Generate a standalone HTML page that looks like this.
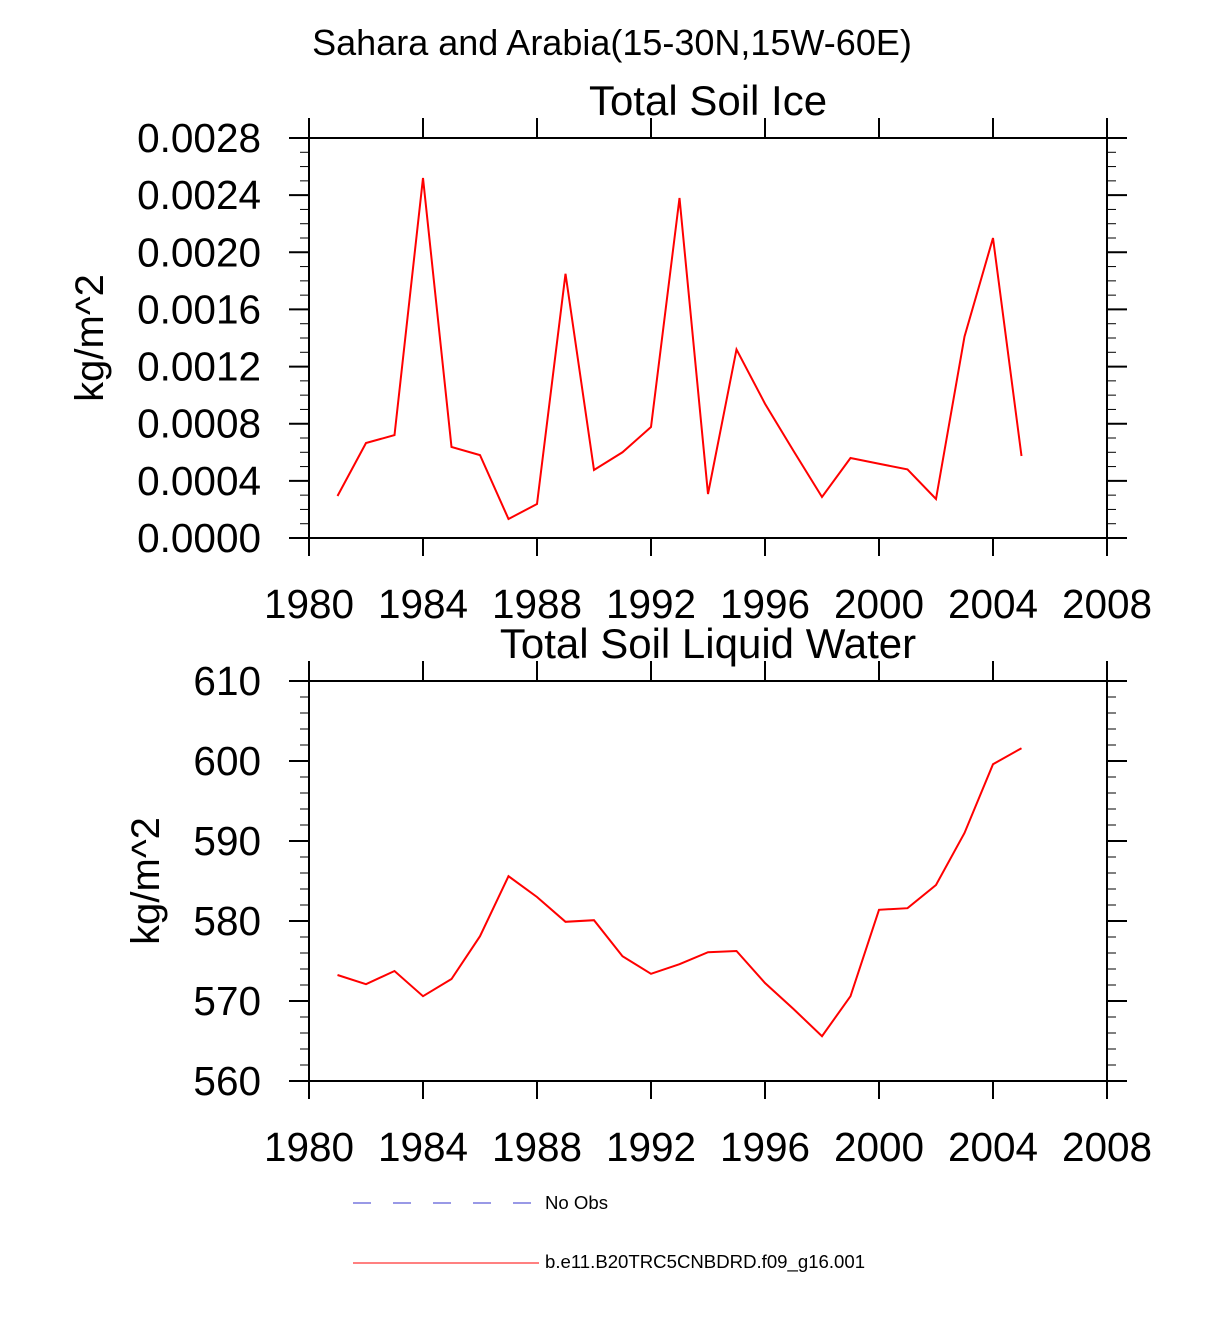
<!DOCTYPE html>
<html><head><meta charset="utf-8"><style>
body{margin:0;background:#fff;}
svg{display:block;font-family:"Liberation Sans",sans-serif;}
</style></head><body>
<svg id="chart" width="1224" height="1326" viewBox="0 0 1224 1326">
<text x="612" y="55" font-size="36" text-anchor="middle">Sahara and Arabia(15-30N,15W-60E)</text>
</svg>
<script>
const years = [1981,1982,1983,1984,1985,1986,1987,1988,1989,1990,1991,1992,1993,1994,1995,1996,1997,1998,1999,2000,2001,2002,2003,2004,2005];
const iceValues = [0.000294,0.000665,0.00072,0.00252,0.000637,0.00058,0.000133,0.000238,0.00185,0.000476,0.0006,0.000777,0.00238,0.000308,0.00132,0.00094,0.00061,0.000287,0.00056,0.00052,0.00048,0.000273,0.00141,0.0021,0.000574];
const liquidValues = [573.25,572.1,573.75,570.6,572.75,578.1,585.6,583,579.9,580.1,575.6,573.4,574.6,576.1,576.25,572.25,569,565.6,570.6,581.4,581.6,584.5,591,599.6,601.6];
const xTicks = [1980,1984,1988,1992,1996,2000,2004,2008];
const iceTicks = ["0.0000","0.0004","0.0008","0.0012","0.0016","0.0020","0.0024","0.0028"];
const liquidTicks = ["560","570","580","590","600","610"];

const svg = document.getElementById('chart');
const NS = 'http://www.w3.org/2000/svg';
function mk(tag, attrs, parent){const e=document.createElementNS(NS,tag);for(const k in attrs)e.setAttribute(k,attrs[k]);(parent||svg).appendChild(e);return e;}

function panel(name, top, yMin, yMax, yTicks, minorStep, values, title, ytitleX){
  const L=309,R=1107,T=top,B=top+400;
  const g=mk('g',{});
  
  
  const xs=v=>L+(v-1980)/(2008-1980)*(R-L);
  const ys=v=>B-(v-yMin)/(yMax-yMin)*(B-T);
  const box=mk('rect',{x:L,y:T,width:R-L,height:B-T,fill:'none',stroke:'#000','stroke-width':2},g);
  
  
  xTicks.forEach(t=>{
    const x=xs(t);
    mk('line',{x1:x,x2:x,y1:B,y2:B+18,stroke:'#000','stroke-width':2},g);
    mk('line',{x1:x,x2:x,y1:T,y2:T-20,stroke:'#000','stroke-width':2},g);
    const lb=mk('text',{x:x,y:B+80,'font-size':40.5,'text-anchor':'middle'},g);
    lb.textContent=t;
    
    
  });
  for(let v=yMin; v<=yMax+1e-12; v+=minorStep){
    const y=ys(v);
    mk('line',{x1:L-9,x2:L,y1:y,y2:y,stroke:'#000','stroke-width':1},g);
    mk('line',{x1:R,x2:R+9,y1:y,y2:y,stroke:'#000','stroke-width':1},g);
  }
  yTicks.forEach(t=>{
    const y=ys(parseFloat(t));
    mk('line',{x1:L-20,x2:L,y1:y,y2:y,stroke:'#000','stroke-width':2},g);
    mk('line',{x1:R,x2:R+20,y1:y,y2:y,stroke:'#000','stroke-width':2},g);
    const lb=mk('text',{x:261,y:y+14,'font-size':40.5,'text-anchor':'end'},g);
    lb.textContent=t;
    
    
  });
  const tt=mk('text',{x:708,y:T-23,'font-size':42,'text-anchor':'middle'},g);
  tt.textContent=title;
  
  
  const yt=mk('text',{x:ytitleX,y:(T+B)/2,'font-size':40,'text-anchor':'middle',transform:`rotate(-90 ${ytitleX} ${(T+B)/2})`},g);
  yt.textContent='kg/m^2';
  
  
  const pts=years.map((yr,i)=>xs(yr)+','+ys(values[i])).join(' ');
  const line=mk('polyline',{points:pts,fill:'none',stroke:'#ff0000','stroke-width':2},g);
  
  
}
panel('soil-ice',138,0,0.0028,iceTicks,0.0001,iceValues,'Total Soil Ice',103);
panel('soil-liquid',681,560,610,liquidTicks,2,liquidValues,'Total Soil Liquid Water',159);

const leg=mk('g',{});


mk('line',{x1:353,x2:535,y1:1203,y2:1203,stroke:'#3333cc','stroke-width':1,'stroke-dasharray':'18,22'},leg);
const t1=mk('text',{x:545,y:1209,'font-size':18.6},leg);
t1.textContent='No Obs';


mk('line',{x1:353,x2:539,y1:1263,y2:1263,stroke:'#ff0000','stroke-width':1},leg);
const t2=mk('text',{x:545,y:1268,'font-size':18.6},leg);
t2.textContent='b.e11.B20TRC5CNBDRD.f09_g16.001';


</script>
</body></html>
